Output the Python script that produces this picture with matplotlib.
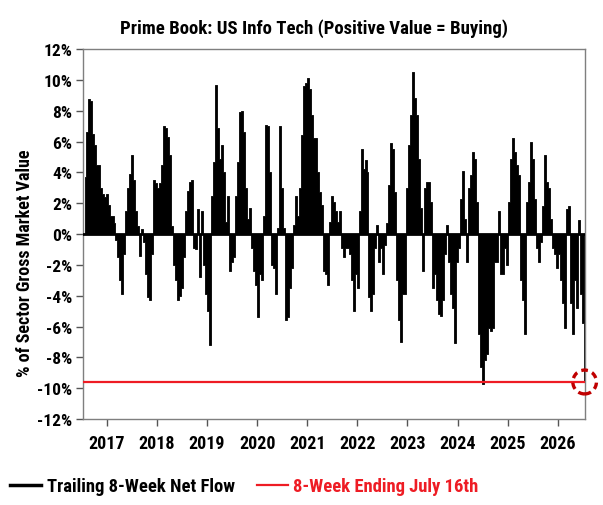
import matplotlib
matplotlib.use('Agg')
import matplotlib.pyplot as plt
import matplotlib.dates as mdates
from matplotlib.lines import Line2D
from matplotlib.patches import Ellipse
from matplotlib.ticker import FuncFormatter
from matplotlib import font_manager
import pandas as pd

# pick a condensed bold face if there is one, else Roboto
names = set(f.name for f in font_manager.fontManager.ttflist)
fams = [n for n in ['Roboto Condensed', 'Liberation Sans Narrow', 'DejaVu Sans Condensed'] if n in names]
plt.rcParams['font.family'] = fams + ['Roboto', 'DejaVu Sans']
plt.rcParams['font.weight'] = 'bold'

# trailing 8-week net flow, % of sector gross market value (~2-week steps)
flow = [
    3.7, 6.6, 8.75, 8.6, 6.5, 5.8, 4.5, 4.5, 3.0, 2.6, 2.4, 2.6, 1.9, 1.2, 1.2, 0.7,
    -0.4, -1.5, -3.0, -3.9, -1.3, 1.5, 3.0, 3.9, 5.1, 3.5, 1.5, 0.5, -1.4, 0.3, -0.5, -2.6,
    -4.1, -4.3, -1.3, 3.5, 3.3, 3.0, 3.3, 4.5, 7.0, 6.9, 6.3, 5.1, 0.5, -2.0, -3.0, -4.3,
    -4.0, -3.5, -1.5, 1.5, 2.8, 3.4, 3.5, -0.9, -1.0, 1.6, -2.8, 1.5, -2.0, -3.9, -5.0, -7.2,
    2.5, 4.7, 9.7, 6.9, 4.9, 5.8, 4.0, 0.8, 2.5, -2.4, -1.8, -1.5, 2.5, 4.7, 7.9, 8.0,
    6.6, 3.0, 1.0, 1.7, -0.9, -2.4, -3.3, -5.4, -2.6, -3.0, 1.2, 7.1, 7.0, 4.0, -2.0, -2.2,
    -3.9, 0.4, 7.0, 3.0, 0.4, -5.6, -5.4, -3.5, -2.2, 0.6, 2.5, 1.2, 3.0, 6.4, 9.6, 9.8,
    10.1, 9.4, 7.7, 6.2, 6.2, 4.0, 2.7, 1.9, -2.4, -2.6, -3.3, 0.8, 2.5, 2.1, 1.5, 0.8,
    1.5, -0.9, -1.5, -0.9, -0.9, -1.3, -3.0, -5.0, -2.6, -3.5, 1.5, 5.5, 4.2, 4.8, 4.0, -4.1,
    -5.0, -3.9, -0.9, 0.6, -1.8, -0.9, -2.6, -0.7, 0.7, 3.2, 5.9, 5.5, 2.7, -3.0, -5.6, -7.0,
    -3.9, -3.9, 3.0, 5.8, 7.7, 10.5, 8.8, 7.7, 4.9, 1.7, -2.4, 3.0, 3.4, 3.4, 2.1, -3.5,
    -2.6, -4.3, -5.2, -5.3, -4.3, -1.3, 0.6, -1.8, -3.9, -4.8, -7.1, -1.8, -0.9, 2.3, 4.1, 1.0,
    -1.8, 3.0, 3.8, 5.3, 4.9, 2.1, -6.5, -8.6, -9.7, -8.2, -7.8, -6.1, -6.3, -6.1, -1.8, -1.8,
    1.5, -2.6, -2.6, -0.9, -2.0, 2.1, 4.9, 6.2, 5.3, 4.5, 3.8, -3.0, -4.3, -6.5, 2.1, 3.4,
    6.0, 4.9, 2.3, -0.9, -1.8, -0.5, 1.8, 5.1, 3.4, 3.0, 1.0, -0.9, -1.3, -2.2, -1.3, -3.0,
    -4.5, -6.1, 1.6, 1.8, -4.5, -6.5, -3.0, -4.8, 0.9, -3.9, -5.8, -9.6,
]
dates = pd.date_range('2016-07-22', '2026-07-16', periods=len(flow))
latest = flow[-1]

years = list(range(2017, 2027))
yticks = list(range(-12, 13, 2))

fig = plt.figure(figsize=(6.03, 5.06), dpi=100)
ax = fig.add_axes([0.138, 0.170, 0.832, 0.731])

step = (dates[1] - dates[0]).days + (dates[1] - dates[0]).seconds / 86400.0
# weekly-style bars drawn as a stepped fill so neighbouring bars join up
ax.fill_between(dates, flow, 0, step='mid', color='black', linewidth=0.6,
                edgecolor='black', zorder=2)
ax.axhline(0, color='black', linewidth=2, zorder=3)
ax.axhline(latest, color='#ee1c24', linewidth=1.6, zorder=4)

cx = mdates.date2num(dates[-1])
ring = Ellipse((cx, latest), width=172, height=1.55, fill=False, edgecolor='#c00000',
               linewidth=2.4, linestyle=(0, (2, 1.4)), clip_on=False, zorder=5)
ax.add_patch(ring)

ax.set_xlim(mdates.date2num(dates[0]) - step / 2 - 3, cx + 2)
ax.set_ylim(-12, 12)
ax.set_xticks([mdates.date2num(pd.Timestamp(y, 1, 1)) for y in years])
ax.set_xticklabels([str(y) for y in years])
ax.set_yticks(yticks)
ax.yaxis.set_major_formatter(FuncFormatter(lambda v, p: '%d%%' % v))

ax.tick_params(axis='both', direction='out', length=5, width=1, color='#555555')
ax.tick_params(axis='x', labelsize=13, pad=6)
ax.tick_params(axis='y', labelsize=12.5, pad=3)
for s in ax.spines.values():
    s.set_color('#7f7f7f')
    s.set_linewidth(1)

fig.text(0.52, 0.944, 'Prime Book: US Info Tech (Positive Value = Buying)',
         ha='center', va='center', fontsize=13.5, fontweight='bold')
fig.text(0.042, 0.48, '% of Sector Gross Market Value', rotation=90,
         ha='center', va='center', fontsize=13, fontweight='bold')

handles = [Line2D([], [], color='black', linewidth=2.5),
           Line2D([], [], color='#ee1c24', linewidth=1.6)]
labels = ['Trailing 8-Week Net Flow', '8-Week Ending July 16th']
leg = fig.legend(handles, labels, loc='center left', bbox_to_anchor=(0.005, 0.037), ncol=2,
                 frameon=False, fontsize=13.4, handlelength=1.65, handletextpad=0.3,
                 columnspacing=1.2, borderaxespad=0, labelcolor=['black', '#ee1c24'])

fig.savefig('out.png', dpi=100)
